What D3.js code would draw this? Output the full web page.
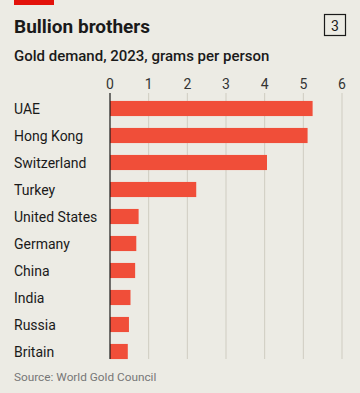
<!DOCTYPE html>
<html>
<head>
<meta charset="utf-8">
<script src="https://cdn.jsdelivr.net/npm/d3@7"></script>
<style>
  body { margin: 0; background: #ecebe4; }
  svg { display: block; font-family: Roboto, "Noto Sans", sans-serif; }
</style>
</head>
<body>
<svg width="360" height="393"></svg>
<script>
const countries = ['UAE', 'Hong Kong', 'Switzerland', 'Turkey', 'United States',
  'Germany', 'China', 'India', 'Russia', 'Britain'];
const grams = [5.24, 5.11, 4.06, 2.23, 0.74, 0.68, 0.65, 0.53, 0.49, 0.46];
const ticks = [0, 1, 2, 3, 4, 5, 6];

const svg = d3.select('svg');

svg.append('rect')
  .attr('width', 360).attr('height', 393)
  .attr('fill', '#ecebe4');

// red tag
svg.append('rect')
  .attr('x', 14).attr('y', 0)
  .attr('width', 40).attr('height', 5)
  .attr('fill', '#e3120b');

svg.append('text')
  .attr('x', 14).attr('y', 33)
  .attr('font-size', 19).attr('font-weight', 700)
  .attr('fill', '#1a1a1a')
  .text('Bullion brothers');

// chart number box
svg.append('rect')
  .attr('x', 324.5).attr('y', 14.5)
  .attr('width', 21).attr('height', 21)
  .attr('fill', 'none').attr('stroke', '#1a1a1a').attr('stroke-width', 1.2);
svg.append('text')
  .attr('x', 335).attr('y', 30.5)
  .attr('text-anchor', 'middle')
  .attr('font-size', 14)
  .attr('fill', '#1a1a1a')
  .text('3');

svg.append('text')
  .attr('x', 14).attr('y', 61)
  .attr('font-size', 15).attr('font-weight', 500)
  .attr('fill', '#1a1a1a')
  .text('Gold demand, 2023, grams per person');

const x = d3.scaleLinear().domain([0, 6]).range([110, 342]);
const y = d3.scaleBand().domain(countries)
  .range([95, 365])
  .paddingInner(0.44).paddingOuter(0.22);

// grid
svg.append('g')
  .selectAll('line')
  .data(ticks.slice(1))
  .enter()
  .append('line')
  .attr('x1', d => x(d)).attr('x2', d => x(d))
  .attr('y1', 93).attr('y2', 359)
  .attr('stroke', '#cfccc1').attr('stroke-width', 1);

svg.append('g')
  .selectAll('text')
  .data(ticks)
  .enter()
  .append('text')
  .attr('x', d => x(d)).attr('y', 89)
  .attr('text-anchor', 'middle')
  .attr('font-size', 14)
  .attr('fill', '#333')
  .text(d => d);

// bars
svg.append('g')
  .selectAll('rect')
  .data(countries)
  .enter()
  .append('rect')
  .attr('x', x(0))
  .attr('y', d => y(d))
  .attr('width', (d, i) => x(grams[i]) - x(0))
  .attr('height', y.bandwidth())
  .attr('fill', '#f04e39');

svg.append('line')
  .attr('x1', x(0)).attr('x2', x(0))
  .attr('y1', 93).attr('y2', 359)
  .attr('stroke', '#1a1a1a').attr('stroke-width', 1.2);

svg.append('g')
  .selectAll('text')
  .data(countries)
  .enter()
  .append('text')
  .attr('x', 14)
  .attr('y', d => y(d) + y.bandwidth() / 2 + 5)
  .attr('font-size', 14)
  .attr('fill', '#1a1a1a')
  .text(d => d);

svg.append('text')
  .attr('x', 14).attr('y', 381)
  .attr('font-size', 11.8)
  .attr('fill', '#777')
  .text('Source: World Gold Council');
</script>
</body>
</html>
